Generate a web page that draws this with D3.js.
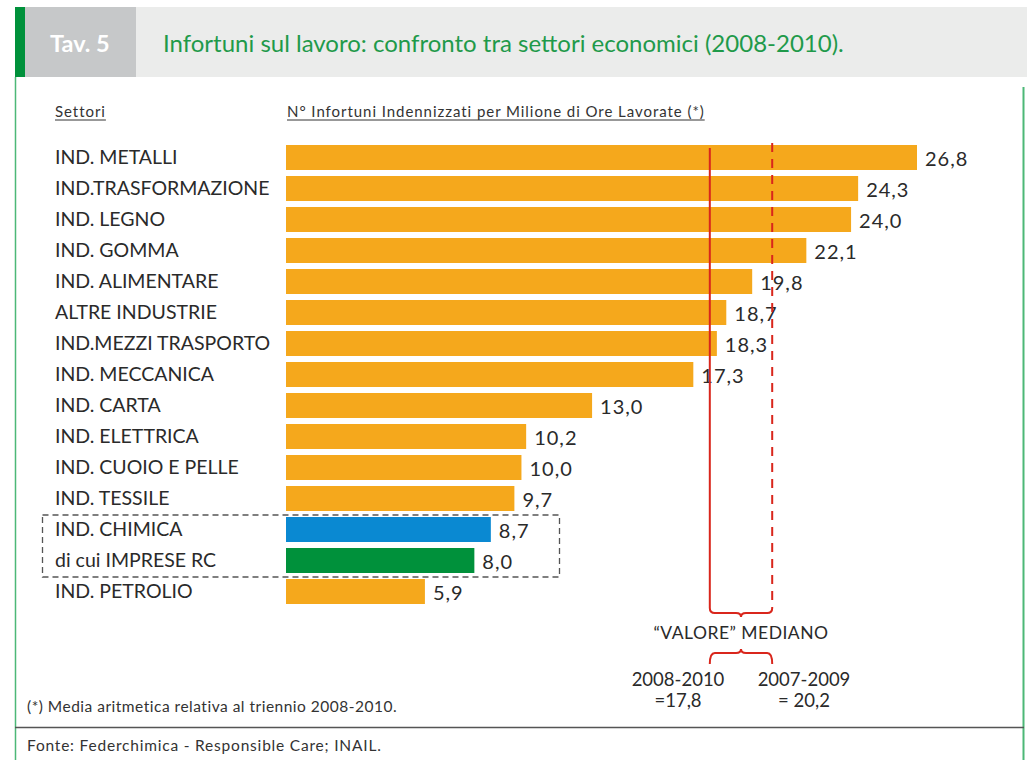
<!DOCTYPE html>
<html>
<head>
<meta charset="utf-8">
<script src="https://cdn.jsdelivr.net/npm/d3@7"></script>
<style>
  body { margin: 0; background: #fff; }
  svg { display: block; font-family: Lato, "Noto Sans", sans-serif; }
</style>
</head>
<body>
<div id="chart"></div>
<script>
// sectors, top to bottom
const sectors = [
  "IND. METALLI", "IND.TRASFORMAZIONE", "IND. LEGNO", "IND. GOMMA",
  "IND. ALIMENTARE", "ALTRE INDUSTRIE", "IND.MEZZI TRASPORTO", "IND. MECCANICA",
  "IND. CARTA", "IND. ELETTRICA", "IND. CUOIO E PELLE", "IND. TESSILE",
  "IND. CHIMICA", "di cui IMPRESE RC", "IND. PETROLIO"
];
const values = [26.8, 24.3, 24.0, 22.1, 19.8, 18.7, 18.3, 17.3, 13.0, 10.2, 10.0, 9.7, 8.7, 8.0, 5.9];
const highlight = { "IND. CHIMICA": "#0a89d2", "di cui IMPRESE RC": "#00913b" };

// median values (labels) and where the picture actually draws the lines
const medianLabels = ["2008-2010", "2007-2009"];
const medianValues = [17.8, 20.2];
const medianDrawnAt = [18.0, 20.65];

const W = 1027, H = 760;
const fmt = v => v.toFixed(1).replace(".", ",");

const svg = d3.select("#chart").append("svg").attr("width", W).attr("height", H);

// header band
svg.append("rect").attr("x", 15).attr("y", 7).attr("width", W - 15).attr("height", 70).attr("fill", "#ebeceb");
svg.append("rect").attr("x", 25).attr("y", 7).attr("width", 111).attr("height", 70).attr("fill", "#c6c8c9");
svg.append("rect").attr("x", 15).attr("y", 7).attr("width", 10).attr("height", 70).attr("fill", "#00913b");
svg.append("text").attr("x", 50).attr("y", 52).attr("fill", "#fff")
  .style("font-size", "23.5px").style("font-weight", "bold").text("Tav. 5");
svg.append("text").attr("x", 163).attr("y", 52).attr("fill", "#1f9a4a")
  .style("font-size", "24px").text("Infortuni sul lavoro: confronto tra settori economici (2008-2010).");

// side borders
svg.append("line").attr("x1", 15.5).attr("x2", 15.5).attr("y1", 77).attr("y2", H)
  .attr("stroke", "#4cb877").attr("stroke-width", 1.5);
svg.append("line").attr("x1", 1023.5).attr("x2", 1023.5).attr("y1", 87).attr("y2", H)
  .attr("stroke", "#4cb877").attr("stroke-width", 2);

// column headers
function underlined(x, y, txt) {
  const t = svg.append("text").attr("x", x).attr("y", y).attr("fill", "#333")
    .style("font-size", "15px").style("letter-spacing", "0.95px").text(txt);
  const w = t.node().getComputedTextLength();
  svg.append("line").attr("x1", x).attr("x2", x + w).attr("y1", y + 3).attr("y2", y + 3)
    .attr("stroke", "#333").attr("stroke-width", 1);
}
underlined(55, 117, "Settori");
underlined(287, 117, "N° Infortuni Indennizzati per Milione di Ore Lavorate (*)");

// scales
const x = d3.scaleLinear().domain([0, 26.8]).range([286, 917]);
const y = d3.scaleBand().domain(sectors).range([142, 607]).paddingInner(0.194).paddingOuter(0.097);

const g = svg.append("g");

g.selectAll(".bar").data(sectors).join("rect")
  .attr("class", "bar")
  .attr("x", x(0))
  .attr("y", d => y(d))
  .attr("width", (d, i) => x(values[i]) - x(0))
  .attr("height", y.bandwidth())
  .attr("fill", d => highlight[d] || "#f5a81c");

g.selectAll(".cat").data(sectors).join("text")
  .attr("class", "cat")
  .attr("x", 55)
  .attr("y", d => y(d) + y.bandwidth() / 2 + 6.5)
  .attr("fill", "#2a2a2a")
  .style("font-size", "19.5px")
  .text(d => d);

g.selectAll(".val").data(sectors).join("text")
  .attr("class", "val")
  .attr("x", (d, i) => x(values[i]) + 8)
  .attr("y", d => y(d) + y.bandwidth() / 2 + 8)
  .attr("fill", "#2a2a2a")
  .style("font-size", "20px")
  .style("letter-spacing", "1px")
  .text((d, i) => fmt(values[i]));

// dashed box around chemical industry rows
const boxTop = y("IND. CHIMICA") - 2, boxBot = y("di cui IMPRESE RC") + y.bandwidth() + 4;
svg.append("rect").attr("x", 42.5).attr("y", boxTop).attr("width", 517).attr("height", boxBot - boxTop)
  .attr("fill", "none").attr("stroke", "#555").attr("stroke-width", 1.3).attr("stroke-dasharray", "6,4");

// median lines
const red = "#d9261c";
const lineBottom = 608;
svg.append("line").attr("x1", x(medianDrawnAt[0])).attr("x2", x(medianDrawnAt[0]))
  .attr("y1", 148).attr("y2", lineBottom).attr("stroke", red).attr("stroke-width", 2);
svg.append("line").attr("x1", x(medianDrawnAt[1])).attr("x2", x(medianDrawnAt[1]))
  .attr("y1", 143).attr("y2", lineBottom).attr("stroke", red).attr("stroke-width", 2)
  .attr("stroke-dasharray", "9,7");

// braces
const xa = x(medianDrawnAt[0]), xb = x(medianDrawnAt[1]), xm = (xa + xb) / 2;
const r = 5;
function brace(yEdge, yMid, dir) {
  // dir = 1: tip below, dir = -1: tip above
  const yc = yMid - dir * 4;
  const p = d3.path();
  p.moveTo(xa, yEdge);
  p.quadraticCurveTo(xa, yc, xa + r, yc);
  p.lineTo(xm - r, yc);
  p.quadraticCurveTo(xm, yc, xm, yMid);
  p.quadraticCurveTo(xm, yc, xm + r, yc);
  p.lineTo(xb - r, yc);
  p.quadraticCurveTo(xb, yc, xb, yEdge);
  svg.append("path").attr("d", p.toString()).attr("fill", "none")
    .attr("stroke", red).attr("stroke-width", 2);
}
brace(lineBottom, 617, 1);
brace(664, 649, -1);

svg.append("text").attr("x", xm).attr("y", 639).attr("text-anchor", "middle")
  .attr("fill", "#2a2a2a").style("font-size", "17.5px").style("letter-spacing", "0.5px")
  .text("\u201CVALORE\u201D MEDIANO");

const labX = [678, 804];
medianLabels.forEach((lab, i) => {
  svg.append("text").attr("x", labX[i]).attr("y", 686).attr("text-anchor", "middle")
    .attr("fill", "#2a2a2a").style("font-size", "18.5px").text(lab);
  svg.append("text").attr("x", labX[i]).attr("y", 707).attr("text-anchor", "middle")
    .attr("fill", "#2a2a2a").style("font-size", "18.5px")
    .text((i === 0 ? "=" : "= ") + fmt(medianValues[i]));
});

// footnote and source
svg.append("text").attr("x", 27).attr("y", 712).attr("fill", "#333")
  .style("font-size", "15.5px").style("letter-spacing", "0.5px")
  .text("(*) Media aritmetica relativa al triennio 2008-2010.");
svg.append("line").attr("x1", 15).attr("x2", 1024).attr("y1", 727.5).attr("y2", 727.5)
  .attr("stroke", "#555").attr("stroke-width", 1.5);
svg.append("text").attr("x", 27).attr("y", 751).attr("fill", "#333")
  .style("font-size", "15.5px").style("letter-spacing", "0.8px")
  .text("Fonte: Federchimica - Responsible Care; INAIL.");
</script>
</body>
</html>
